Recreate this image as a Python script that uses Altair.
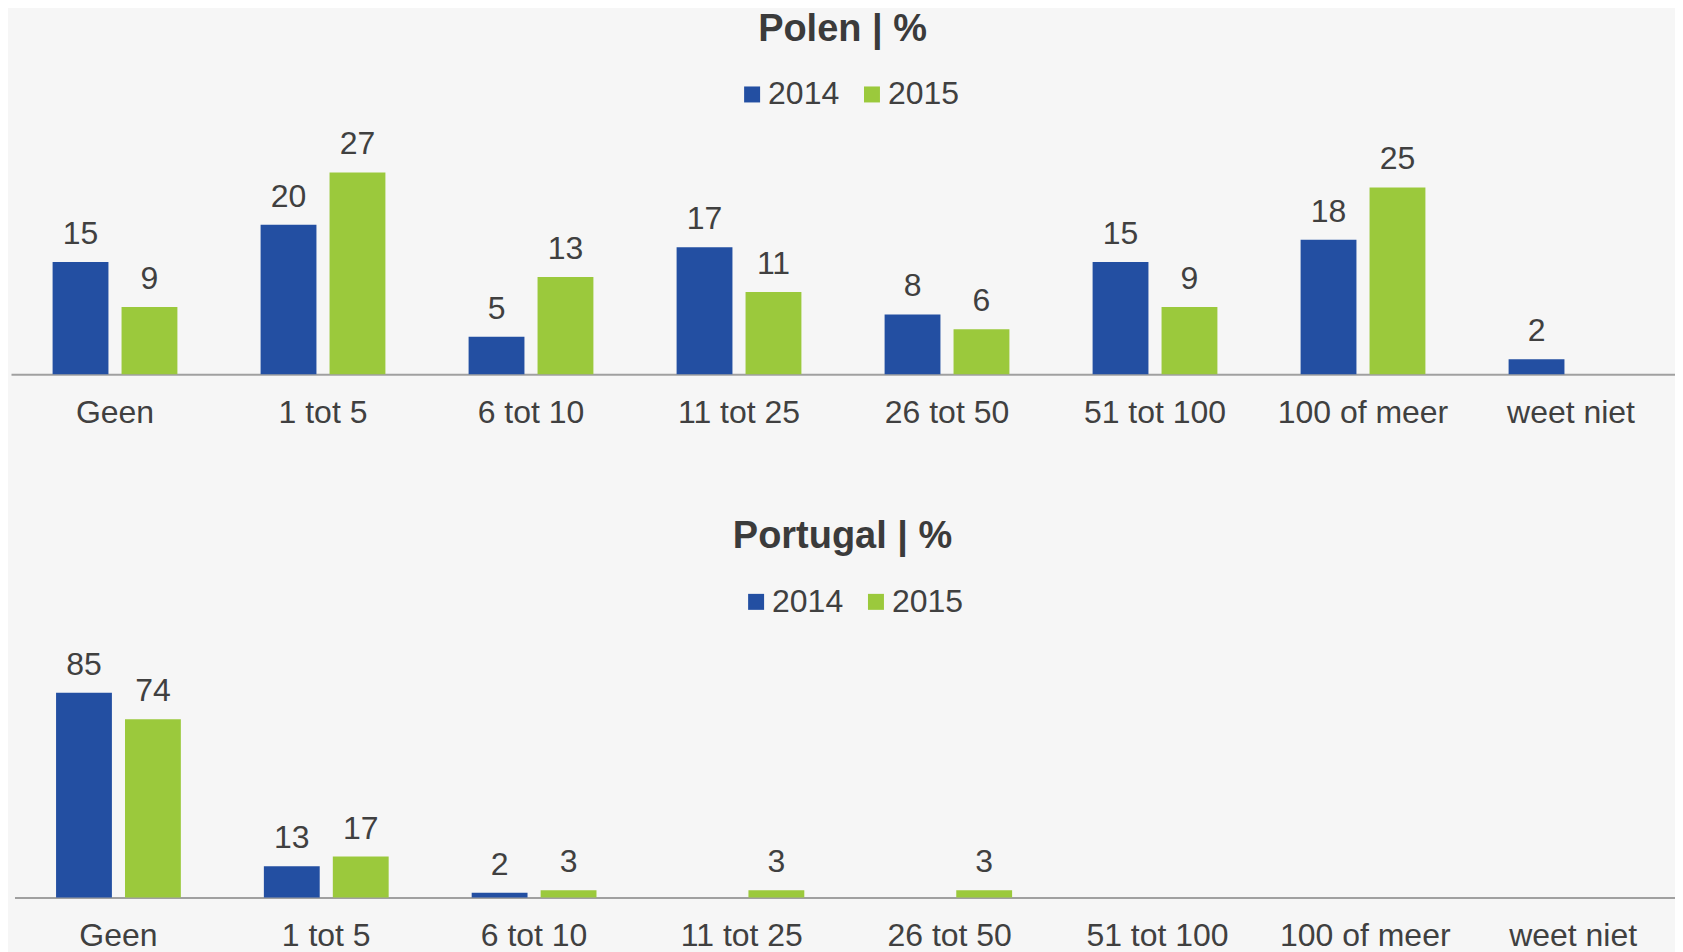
import altair as alt
import pandas as pd

categories = ["Geen", "1 tot 5", "6 tot 10", "11 tot 25", "26 tot 50",
              "51 tot 100", "100 of meer", "weet niet"]
years = ["2014", "2015"]
polen_2014 = [15, 20, 5, 17, 8, 15, 18, 2]
polen_2015 = [9, 27, 13, 11, 6, 9, 25, None]
portugal_2014 = [85, 13, 2, None, None, None, None, None]
portugal_2015 = [74, 17, 3, 3, 3, None, None, None]

BLUE = "#234fa2"
GREEN = "#9bc93c"
TEXT = "#404040"
FONT = "Liberation Sans"


def make_df(a, b):
    rows = []
    for c, v1, v2 in zip(categories, a, b):
        rows.append({"cat": c, "year": years[0], "value": v1})
        rows.append({"cat": c, "year": years[1], "value": v2})
    return pd.DataFrame(rows)


def panel(df, title, ymax, h, lx, ly, toff, xrange):
    base = alt.Chart(df).transform_filter("isValid(datum.value)").encode(
        x=alt.X("cat:N", sort=categories,
                scale=alt.Scale(domain=categories, paddingInner=0.4, paddingOuter=0.2,
                                range=xrange),
                axis=alt.Axis(title=None, labelFontSize=32, labelColor=TEXT, labelFont=FONT,
                              domainColor="#a0a0a0", domainWidth=2, ticks=False,
                              labelPadding=23, labelAngle=0)),
        xOffset=alt.XOffset("year:N", scale=alt.Scale(domain=years, paddingInner=0.19, paddingOuter=0)),
        y=alt.Y("value:Q", scale=alt.Scale(domain=[0, ymax]), axis=None),
    )
    bars = base.mark_bar().encode(
        color=alt.Color("year:N", scale=alt.Scale(domain=years, range=[BLUE, GREEN]),
                        legend=alt.Legend(orient="none", legendX=lx, legendY=ly,
                                          direction="horizontal", title=None,
                                          labelFontSize=32, labelFont=FONT, labelColor=TEXT,
                                          symbolType="square", symbolSize=256,
                                          symbolStrokeWidth=0, labelOffset=0,
                                          columnPadding=16))
    )
    labels = base.mark_text(baseline="alphabetic", dy=-18, fontSize=32,
                            color=TEXT, font=FONT).encode(text="value:Q")
    return alt.layer(bars, labels).properties(
        width=1665, height=h,
        title=alt.TitleParams(title, fontSize=38, fontWeight="bold", color="#3b3b3b",
                              font=FONT, anchor="middle", offset=toff),
    )


top = panel(make_df(polen_2014, polen_2015), "Polen | %", 33.7, 252, 726, -44, 30, [0, 1666])
bottom = panel(make_df(portugal_2014, portugal_2015), "Portugal | %", 107, 258, 730, -54, 30, [3.5, 1668])

chart = alt.vconcat(top, bottom, spacing=90).resolve_scale(
    color="independent", y="independent", x="independent"
).properties(
    padding={"left": 3, "top": 2, "right": 0, "bottom": 0},
    background="#f6f6f6",
).configure_view(stroke=None)

chart.save("out.html", embed_options={"renderer": "svg", "actions": False})
